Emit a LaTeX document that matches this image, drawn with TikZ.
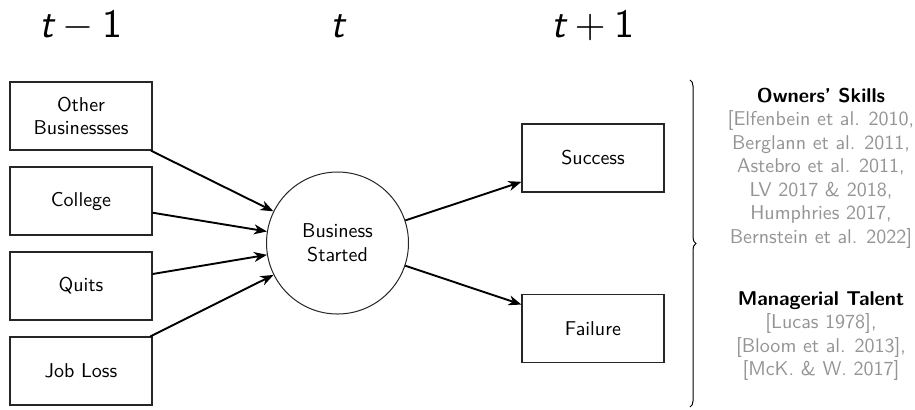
\documentclass[tikz,border=0pt]{standalone}
\usepackage{graphicx}
\usetikzlibrary{arrows.meta,decorations.pathreplacing}
% period label: small design size, enlarged, sans letters and digits
\newcommand{\periodlabel}[1]{\scalebox{2}{\sffamily\fontsize{10}{12}\selectfont #1}}
\begin{document}
\begin{tikzpicture}[x=0.5pt,y=-0.5pt,
  basefont/.style={font=\sffamily\fontsize{10}{11.75}\selectfont},
  stagebox/.style={draw=black!85, line width=0.6pt, minimum width=71pt, minimum height=34pt,
    inner sep=0pt, align=center, basefont},
  hub/.style={circle, draw=black!85, line width=0.5pt, minimum size=71pt,
    inner sep=0pt, align=center, basefont},
  flow/.style={-{Stealth[length=6.5pt,width=5pt,inset=2pt]}, line width=0.95pt},
  period/.style={anchor=base, inner sep=0pt},
  notes/.style={align=center, basefont, text=black!42}]
\useasboundingbox (0,0) rectangle (915,409);

% period labels
\node[period] (pm) at (81,37) {\periodlabel{$\textit{t}-\textsf{1}$}};
\node[period] (p0) at (338,37) {\periodlabel{$\textit{t}$}};
\node[period] (pp) at (593,37) {\periodlabel{$\textit{t}+\textsf{1}$}};

% origins
\node[stagebox] (other) at (81,116) {Other\\Businessses};
\node[stagebox] (college) at (81,201) {College};
\node[stagebox] (quits) at (81,286) {Quits};
\node[stagebox] (jobloss) at (81,371) {Job Loss};

% start-up
\node[hub] (start) at (337.5,243) {Business\\Started};

% outcomes
\node[stagebox] (success) at (593,158) {Success};
\node[stagebox] (failure) at (593,328.5) {Failure};

\draw[flow] (other) -- (start);
\draw[flow] (college) -- (start);
\draw[flow] (quits) -- (start);
\draw[flow] (jobloss) -- (start);
\draw[flow] (start) -- (success);
\draw[flow] (start) -- (failure);

% brace and literature
\coordinate (btop) at (690,80);
\coordinate (bbot) at (690,407);
\draw[line width=0.5pt, decorate, decoration={brace, amplitude=3pt}] (btop) -- (bbot);

\node[notes] (skills) at (821,168) {%
  \textcolor{black}{\bfseries Owners’ Skills}\\
  {[}Elfenbein et al. 2010,\\
  Berglann et al. 2011,\\
  Astebro et al. 2011,\\
  LV 2017 \& 2018,\\
  Humphries 2017,\\
  Bernstein et al. 2022{]}};
\node[notes] (talent) at (821,336) {%
  \textcolor{black}{\bfseries Managerial Talent}\\
  {[}Lucas 1978{]},\\
  {[}Bloom et al. 2013{]},\\
  {[}McK. \& W. 2017{]}};
\end{tikzpicture}
\end{document}
